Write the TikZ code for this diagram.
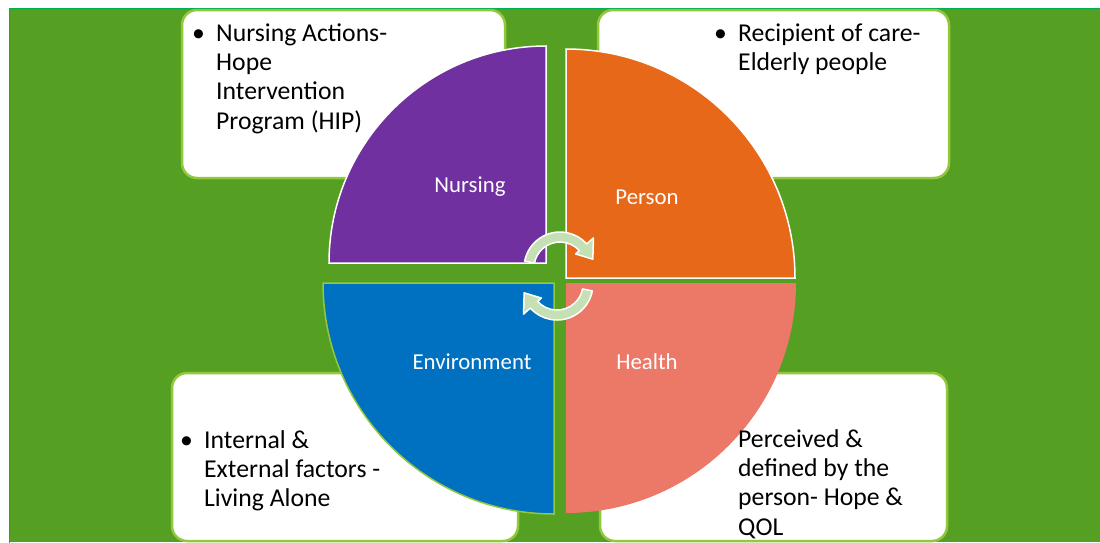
\documentclass[tikz,border=0pt]{standalone}
\usepackage{fontspec}
\setmainfont{Carlito}
\usetikzlibrary{arrows.meta,positioning}

\definecolor{fieldgreen}{RGB}{85,160,35}
\definecolor{edgegreen}{RGB}{0,176,80}
\definecolor{boxgreen}{RGB}{146,200,60}
\definecolor{nurpurple}{RGB}{112,48,160}
\definecolor{perorange}{RGB}{232,104,26}
\definecolor{envblue}{RGB}{0,112,192}
\definecolor{healthred}{RGB}{236,120,104}
\definecolor{cyclegreen}{RGB}{197,224,180}

\begin{document}
\begin{tikzpicture}[
    x=1pt, y=-1pt,
    every node/.style={font=\fontsize{25.7}{29.3}\selectfont},
    note/.style={
        rounded corners=15pt, draw=boxgreen, line width=2.5pt,
        fill=white
    },
    txt/.style={anchor=north west, align=left, inner sep=0pt},
    bul/.style={anchor=north east, inner sep=0pt, xshift=-11pt},
    lab/.style={text=white, inner sep=0pt, font=\fontsize{22.8}{27}\selectfont},
    cyc/.style={fill=cyclegreen, draw=white, line width=1.5pt, line join=round}
]
    \useasboundingbox (0,0) rectangle (1100,542);

    % Background panel
    \fill[fieldgreen] (9,8) rectangle (1100,542);
    \draw[edgegreen, line width=1.5pt] (9.5,545) -- (9.5,8.5) -- (1100,8.5);

    % Text boxes
    \draw[note] (182,10) rectangle (505,178);
    \draw[note] (598,10) rectangle (949,178);
    \draw[note] (172,373) rectangle (518,541);
    \draw[note] (600,373) rectangle (947,541);

    % Quarters
    \draw[fill=nurpurple, draw=white, line width=1.5pt]
        (546,263) -- (329,263) arc[start angle=-180, end angle=-90, radius=217] -- cycle;
    \draw[fill=perorange, draw=white, line width=1.5pt]
        (566,278) -- (566,49) arc[start angle=-90, end angle=0, radius=229] -- cycle;
    \draw[fill=envblue, draw=boxgreen, line width=1.5pt]
        (554,283) -- (554,514) arc[start angle=90, end angle=180, radius=231] -- cycle;
    \fill[healthred]
        (566,283) -- (796,283) arc[start angle=0, end angle=90, radius=230] -- cycle;

    \node[lab] (nursing) at (470,187) {Nursing};
    \node[lab] (person)  at (647,197) {Person};
    \node[lab] (environ) at (472,362) {Environment};
    \node[lab] (health)  at (647,362) {Health};

    % Cycle arrows
    \coordinate (cyctop) at (560,268);
    \coordinate (cycbot) at (557,284);
    \draw[cyc] ([shift={(-169:36)}]cyctop) arc[start angle=-169, end angle=-42, radius=36]
        -- ([shift={(-42:45)}]cyctop) -- ([shift={(-15:34)}]cyctop)
        -- ([shift={(-42:21)}]cyctop) -- ([shift={(-42:26)}]cyctop)
        arc[start angle=-42, end angle=-169, radius=26] -- cycle;
    \draw[cyc] ([shift={(11:36)}]cycbot) arc[start angle=11, end angle=138, radius=36]
        -- ([shift={(138:45)}]cycbot) -- ([shift={(165:34)}]cycbot)
        -- ([shift={(138:21)}]cycbot) -- ([shift={(138:26)}]cycbot)
        arc[start angle=138, end angle=11, radius=26] -- cycle;

    % Box texts
    \node[txt] (nurtxt) at (216,20.5) {\strut Nursing Actions-\\Hope\\Intervention\\Program (HIP)};
    \node[bul] (nurbul) at (nurtxt.north west) {\strut\textbullet};

    \node[txt] (pertxt) at (738,20.5) {\strut Recipient of care-\\Elderly people};
    \node[bul] (perbul) at (pertxt.north west) {\strut\textbullet};

    \node[txt] (envtxt) at (204,427.5) {\strut Internal \&\\External factors -\\Living Alone};
    \node[bul] (envbul) at (envtxt.north west) {\strut\textbullet};

    \node[txt] (healtxt) at (738,426.5) {\strut Perceived \&\\defined by the\\person- Hope \&\\QOL};

\end{tikzpicture}
\end{document}
